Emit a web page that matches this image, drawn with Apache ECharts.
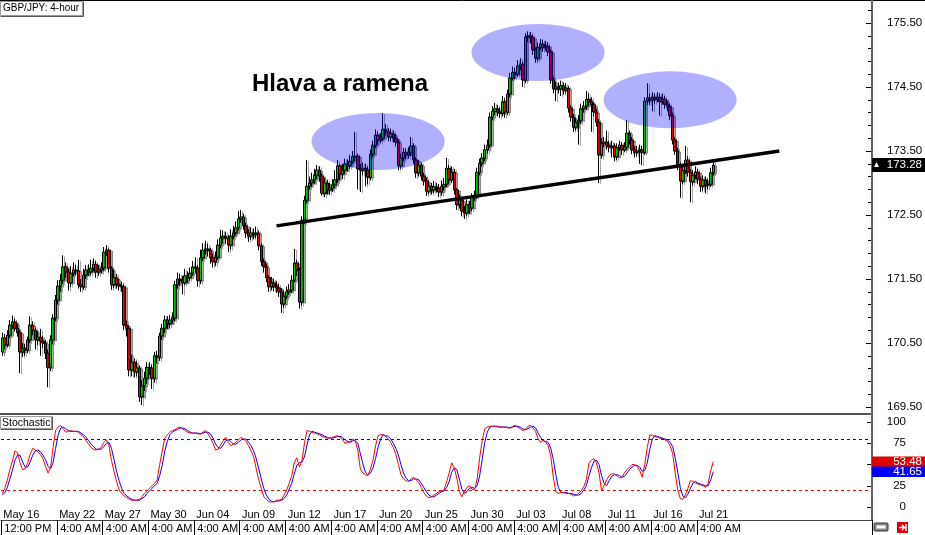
<!DOCTYPE html>
<html><head><meta charset="utf-8">
<script src="https://cdn.jsdelivr.net/npm/echarts@6/dist/echarts.min.js"></script>
<style>html,body{margin:0;padding:0;background:#fff;overflow:hidden}#c{width:925px;height:535px}</style>
</head><body><div id="c"></div>
<script>
// ---------- DATA (GBP/JPY 4-hour candles) ----------
const opens = [
170.36,170.58,170.47,170.62,170.78,170.83,170.73,170.66,170.36,170.42,
170.39,170.55,170.78,170.70,170.55,170.59,170.53,170.50,170.34,170.12,
170.55,170.89,171.17,171.39,171.48,171.69,171.61,171.44,171.59,171.64,
171.63,171.41,171.38,171.56,171.64,171.61,171.67,171.73,171.61,171.64,
171.67,171.92,171.95,171.67,171.41,171.52,171.42,171.39,171.38,170.78,
170.73,170.08,170.20,170.05,170.11,169.66,169.83,169.95,170.12,170.11,
169.95,170.30,170.28,170.61,170.73,170.86,170.80,170.86,170.89,171.41,
171.50,171.48,171.44,171.55,171.52,171.59,171.69,171.67,171.48,171.83,
171.95,171.97,171.95,171.83,171.77,171.84,172.03,172.14,172.17,172.14,
172.03,172.17,172.22,172.30,172.44,172.47,172.33,172.22,172.17,172.22,
172.20,172.22,172.02,171.77,171.69,171.52,171.38,171.44,171.39,171.36,
171.30,171.11,171.23,171.30,171.33,171.48,171.75,171.64,171.14,172.42,
172.73,172.95,173.00,173.05,173.12,173.20,173.11,172.84,173.00,172.89,
172.92,172.97,173.05,173.27,173.14,173.20,173.30,173.27,173.34,173.41,
173.42,173.22,173.20,173.23,173.20,173.09,173.45,173.59,173.75,173.67,
173.70,173.84,173.81,173.72,173.77,173.70,173.64,173.27,173.39,173.48,
173.44,173.47,173.58,173.36,173.16,173.28,173.11,173.03,172.87,172.95,
172.89,172.94,172.92,172.86,172.94,172.98,173.23,173.05,173.17,172.89,
172.66,172.73,172.56,172.53,172.66,172.61,172.77,172.80,173.17,173.31,
173.39,173.52,173.59,174.03,174.12,174.16,174.11,174.09,174.27,174.11,
174.39,174.64,174.73,174.70,174.83,174.86,174.61,175.28,175.30,175.27,
175.08,174.95,175.12,175.17,175.12,175.14,175.05,174.61,174.47,174.50,
174.47,174.52,174.45,174.48,174.17,174.03,173.87,173.95,173.98,174.16,
174.20,174.31,174.27,174.22,174.11,173.95,173.44,173.62,173.64,173.59,
173.56,173.58,173.41,173.55,173.59,173.52,173.56,173.78,173.67,173.52,
173.48,173.50,173.52,173.48,174.28,174.33,174.30,174.34,174.31,174.34,
174.27,174.31,174.23,174.19,174.05,173.67,173.50,173.28,173.03,173.19,
173.36,173.17,173.02,173.12,173.17,173.06,172.95,173.05,172.97,172.98,173.16
];
const closes = [
170.58,170.47,170.62,170.78,170.83,170.73,170.66,170.36,170.42,170.39,
170.55,170.78,170.70,170.55,170.59,170.53,170.50,170.34,170.12,170.55,
170.89,171.17,171.39,171.48,171.69,171.61,171.44,171.59,171.64,171.63,
171.41,171.38,171.56,171.64,171.61,171.67,171.73,171.61,171.64,171.67,
171.92,171.95,171.67,171.41,171.52,171.42,171.39,171.38,170.78,170.73,
170.08,170.20,170.05,170.11,169.66,169.83,169.95,170.12,170.11,169.95,
170.30,170.28,170.61,170.73,170.86,170.80,170.86,170.89,171.41,171.50,
171.48,171.44,171.55,171.52,171.59,171.69,171.67,171.48,171.83,171.95,
171.97,171.95,171.83,171.77,171.84,172.03,172.14,172.17,172.14,172.03,
172.17,172.22,172.30,172.44,172.47,172.33,172.22,172.17,172.22,172.20,
172.22,172.02,171.77,171.69,171.52,171.38,171.44,171.39,171.36,171.30,
171.11,171.23,171.30,171.33,171.48,171.75,171.64,171.14,172.42,172.73,
172.95,173.00,173.05,173.12,173.20,173.11,172.84,173.00,172.89,172.92,
172.97,173.05,173.27,173.14,173.20,173.30,173.27,173.34,173.41,173.42,
173.22,173.20,173.23,173.20,173.09,173.45,173.59,173.75,173.67,173.70,
173.84,173.81,173.72,173.77,173.70,173.64,173.27,173.39,173.48,173.44,
173.47,173.58,173.36,173.16,173.28,173.11,173.03,172.87,172.95,172.89,
172.94,172.92,172.86,172.94,172.98,173.23,173.05,173.17,172.89,172.66,
172.73,172.56,172.53,172.66,172.61,172.77,172.80,173.17,173.31,173.39,
173.52,173.59,174.03,174.12,174.16,174.11,174.09,174.27,174.11,174.39,
174.64,174.73,174.70,174.83,174.86,174.61,175.28,175.30,175.27,175.08,
174.95,175.12,175.17,175.12,175.14,175.05,174.61,174.47,174.50,174.47,
174.52,174.45,174.48,174.17,174.03,173.87,173.95,173.98,174.16,174.20,
174.31,174.27,174.22,174.11,173.95,173.44,173.62,173.64,173.59,173.56,
173.58,173.41,173.55,173.59,173.52,173.56,173.78,173.67,173.52,173.48,
173.50,173.52,173.48,174.28,174.33,174.30,174.34,174.31,174.34,174.27,
174.31,174.23,174.19,174.05,173.67,173.50,173.28,173.03,173.19,173.36,
173.17,173.02,173.12,173.17,173.06,172.95,173.05,172.97,172.98,173.16,173.28
];
const highs = [
170.66,170.64,170.70,170.86,170.93,170.88,170.80,170.70,170.50,170.49,
170.60,170.92,170.84,170.74,170.68,170.72,170.61,170.55,170.40,170.62,
170.95,171.25,171.48,171.58,171.87,171.76,171.66,171.70,171.76,171.72,
171.80,171.50,171.66,171.72,171.73,171.80,171.82,171.78,171.72,171.76,
172.00,172.03,171.98,171.70,171.64,171.58,171.50,171.46,171.42,170.85,
170.78,170.32,170.26,170.22,170.15,169.92,170.05,170.20,170.20,170.16,
170.36,170.38,170.66,170.80,170.93,170.92,170.94,170.98,171.47,171.60,
171.58,171.55,171.66,171.62,171.68,171.78,171.84,171.72,171.96,172.06,
172.10,172.05,171.99,171.90,171.93,172.12,172.27,172.26,172.24,172.19,
172.28,172.33,172.40,172.56,172.58,172.52,172.38,172.28,172.31,172.29,
172.32,172.26,172.06,171.82,171.74,171.56,171.53,171.50,171.47,171.42,
171.36,171.32,171.38,171.42,171.56,171.97,171.80,171.68,172.48,172.80,
173.36,173.10,173.16,173.22,173.28,173.26,173.15,173.08,173.05,173.00,
173.06,173.20,173.36,173.30,173.30,173.38,173.37,173.44,173.50,173.80,
173.46,173.30,173.32,173.30,173.26,173.52,173.66,173.84,173.80,173.78,
174.09,173.92,173.86,173.85,173.82,173.76,173.68,173.46,173.55,173.54,
173.56,173.72,173.62,173.40,173.36,173.32,173.16,173.08,173.04,173.00,
173.03,173.00,172.98,173.04,173.08,173.39,173.28,173.26,173.22,172.92,
172.82,172.78,172.64,172.74,172.72,172.84,172.88,173.24,173.38,173.47,
173.60,173.68,174.10,174.20,174.25,174.22,174.18,174.36,174.32,174.46,
174.72,174.82,174.80,174.92,174.95,174.90,175.34,175.37,175.36,175.32,
175.12,175.20,175.25,175.24,175.22,175.20,175.09,174.66,174.58,174.57,
174.60,174.57,174.56,174.52,174.22,174.08,174.02,174.06,174.24,174.28,
174.44,174.40,174.34,174.26,174.16,174.00,173.70,173.72,173.82,173.66,
173.66,173.62,173.62,173.66,173.64,173.64,173.98,173.82,173.72,173.58,
173.58,173.60,173.58,174.34,174.56,174.40,174.42,174.40,174.42,174.40,
174.40,174.36,174.28,174.24,174.10,173.72,173.55,173.32,173.26,173.58,
173.42,173.22,173.20,173.26,173.22,173.10,173.12,173.10,173.06,173.24,173.36
];
const lows = [
170.30,170.40,170.43,170.58,170.72,170.68,170.60,170.03,170.28,170.30,
170.34,170.50,170.62,170.40,170.47,170.30,170.42,170.25,169.81,170.06,
170.48,170.84,171.10,171.30,171.42,171.52,171.32,171.38,171.54,171.56,
171.35,171.30,171.33,171.50,171.55,171.56,171.62,171.52,171.55,171.58,
171.63,171.86,171.60,171.33,171.36,171.35,171.32,171.30,170.70,170.60,
169.98,169.98,169.96,169.98,169.58,169.53,169.75,169.86,170.00,169.78,
169.88,170.18,170.22,170.55,170.66,170.72,170.74,170.80,170.84,171.35,
171.40,171.26,171.40,171.44,171.47,171.55,171.60,171.38,171.42,171.78,
171.88,171.85,171.74,171.68,171.70,171.80,171.98,172.05,172.05,171.92,
171.96,172.12,172.18,172.26,172.38,172.27,172.14,172.08,172.11,172.12,
172.14,171.95,171.70,171.60,171.45,171.30,171.32,171.31,171.28,171.22,
170.97,171.05,171.18,171.25,171.28,171.45,171.55,171.04,171.08,172.36,
172.68,172.90,172.94,172.98,173.06,173.02,172.80,172.78,172.82,172.82,
172.86,172.92,173.00,173.05,173.06,173.14,173.18,173.22,173.30,173.34,
172.90,172.86,173.12,172.95,172.98,173.04,173.40,173.55,173.60,173.62,
173.66,173.74,173.65,173.66,173.63,173.57,173.20,173.22,173.34,173.37,
173.38,173.42,173.30,173.08,173.10,173.04,172.96,172.80,172.82,172.82,
172.84,172.85,172.78,172.80,172.88,172.94,172.98,173.00,172.82,172.58,
172.60,172.48,172.44,172.48,172.52,172.56,172.72,172.76,173.12,173.26,
173.34,173.46,173.55,173.98,174.06,174.04,174.02,174.04,174.02,174.06,
174.34,174.60,174.62,174.66,174.76,174.50,174.56,175.20,175.18,175.00,
174.88,174.90,175.08,175.05,175.06,174.98,174.55,174.40,174.28,174.40,
174.36,174.38,174.40,174.10,173.96,173.80,173.82,173.60,173.92,174.10,
174.14,174.20,173.80,174.04,173.88,173.00,173.38,173.56,173.52,173.48,
173.40,173.34,173.36,173.50,173.44,173.48,173.52,173.60,173.45,173.40,
173.42,173.30,173.28,173.44,174.22,174.22,174.12,174.24,174.26,174.05,
174.22,174.16,174.12,173.98,173.60,173.44,173.20,172.77,172.98,173.14,
173.10,172.70,172.96,173.06,172.98,172.86,172.88,172.84,172.90,172.94,173.12
];
// Stochastic %K (red) and %D (blue)
const stochK = [
16,22,32,44,54,66,64,52,44,45, 52,62,69,67,65,62,57,48,40,46,
70,90,94,96,92,88,89,90,89,89, 88,85,83,78,74,70,68,67,68,70,
76,79,72,55,42,30,20,16,13,11, 9,8,8,8,9,12,16,19,22,25,
28,32,50,66,81,85,88,90,91,93, 94,92,90,88,87,87,87,86,86,88,
90,86,81,75,67,68,73,78,82,76, 72,74,76,79,82,80,77,72,66,59,
45,32,22,12,9,6,6,6,8,8, 9,14,20,28,37,52,58,47,54,75,
90,89,88,87,86,85,83,82,81,81, 82,83,84,82,79,75,76,77,80,78,
67,45,40,38,37,45,55,72,84,85, 85,83,80,76,70,62,50,38,33,31,
30,33,35,32,29,23,17,13,11,12, 14,16,18,19,20,30,40,52,46,34,
18,12,18,23,25,21,20,33,58,78, 92,94,95,95,95,94,94,94,94,93,
93,95,96,94,92,90,91,95,96,93, 89,80,76,79,76,72,60,35,18,16,
17,17,16,16,15,13,14,16,19,24, 32,51,55,57,52,40,19,25,32,37,
39,39,37,34,35,40,44,47,50,50, 48,43,35,50,70,85,84,83,82,81,
80,79,77,72,63,40,20,10,9,14, 22,31,30,28,27,26,25,23,28,43,53.48
];
const stochD = [
14,17,23,33,43,55,61,61,53,47, 47,53,61,66,67,65,61,56,48,45,
52,69,85,93,94,92,90,89,89,89, 89,87,85,82,78,74,71,68,68,68,
71,75,76,69,56,42,31,22,16,13, 11,9,8,8,8,10,12,16,19,22,
25,28,37,49,66,77,85,88,90,91, 93,93,92,90,88,87,87,87,86,87,
88,88,86,81,74,70,69,73,78,79, 77,74,74,76,79,80,80,76,72,66,
57,45,33,22,14,9,7,6,7,7, 8,10,14,21,28,39,49,52,53,59,
73,85,89,88,87,86,85,83,82,81, 81,82,83,83,82,79,77,76,78,78,
75,63,51,41,38,40,46,57,70,80, 85,84,83,80,75,69,61,50,40,34,
31,31,33,33,32,28,23,18,14,12, 12,14,16,18,19,23,30,41,46,44,
33,21,16,18,22,23,22,25,37,56, 76,88,94,95,95,95,94,94,94,94,
93,94,95,95,94,92,91,92,94,95, 93,87,82,78,77,76,69,56,38,23,
17,17,17,16,16,15,14,14,16,20, 25,36,46,54,55,50,37,28,25,31,
36,38,38,37,35,36,40,44,47,49, 49,47,42,43,52,68,80,84,83,82,
81,80,79,76,71,58,41,23,13,11, 15,22,28,30,28,27,26,25,25,32,41.65
];
// x-axis labels: candle index, date, time
const labelCandles = [0,22,40,58,76,94,112,130,148,166,184,202,220,238,256,274];
const dateLabels = ['May 16','May 22','May 27','May 30','Jun 04','Jun 09','Jun 12','Jun 17','Jun 20','Jun 25','Jun 30','Jul 03','Jul 08','Jul 11','Jul 16','Jul 21'];
const timeLabels = ['12:00 PM','4:00 AM','4:00 AM','4:00 AM','4:00 AM','4:00 AM','4:00 AM','4:00 AM','4:00 AM','4:00 AM','4:00 AM','4:00 AM','4:00 AM','4:00 AM','4:00 AM','4:00 AM'];
const slotCount = 343;               // candle slots on the time axis (incl. empty right margin)
const priceAxisBase = 169.5;         // lowest labelled price
const priceAxisSpan = 6;             // 169.50 .. 175.50
// annotations (data coordinates)
const trendLine = [[108, 172.33], [306, 173.50]];
const ellipseCandle = [148, 211, 263];
const ellipsePrice = [173.65, 175.04, 174.30];
const ellipseHalfCandles = 26.2;
const ellipseHalfPrice = 0.445;
const lastPrice = 173.28;
const titleText = 'GBP/JPY: 4-hour';
const patternText = 'Hlava a ramena';
const stochTitle = 'Stochastic';

// ---------- CHART ----------
const FONT = '"Liberation Sans", Arial, sans-serif';
const chart = echarts.init(document.getElementById('c'));
const cats = Array.from({length: slotCount}, (_, i) => String(i));
const labelPos = {};
labelCandles.forEach((c, k) => { labelPos[c] = k; });
const isLabel = (i) => labelPos[i] !== undefined;
const candleData = opens.map((o, i) => [o, closes[i], lows[i], highs[i]]);

chart.setOption({
  animation: false,
  backgroundColor: '#fff',
  grid: [
    {left: 1, right: 53, top: 23, height: 384, outerBoundsMode: 'none', containLabel: false},
    {left: 1, right: 53, top: 422, height: 85, outerBoundsMode: 'none', containLabel: false}
  ],
  xAxis: [
    {type: 'category', data: cats, gridIndex: 0, show: false, boundaryGap: true},
    {type: 'category', data: cats, gridIndex: 1, position: 'bottom', boundaryGap: true,
      axisLine: {show: false}, axisTick: {show: false}, splitLine: {show: false},
      axisLabel: {interval: (i) => isLabel(i), formatter: (v, i) => isLabel(i) ? dateLabels[labelPos[i]] : '',
        align: 'left', margin: 2, fontSize: 11, color: '#000', fontFamily: FONT, padding: [0, 0, 0, 1]}},
    {type: 'category', data: cats, gridIndex: 1, position: 'bottom', offset: 13, boundaryGap: true,
      axisLine: {show: true, lineStyle: {color: '#444', width: 1}},
      axisTick: {show: true, interval: (i) => isLabel(i), length: 15, inside: false, lineStyle: {color: '#000', width: 1}},
      splitLine: {show: false},
      axisLabel: {interval: (i) => isLabel(i), formatter: (v, i) => isLabel(i) ? timeLabels[labelPos[i]] : '',
        align: 'left', margin: 3, fontSize: 11, color: '#000', fontFamily: FONT, padding: [0, 0, 0, 2]}}
  ],
  yAxis: [
    {type: 'value', gridIndex: 0, min: priceAxisBase, max: priceAxisBase + priceAxisSpan, show: false},
    {type: 'value', gridIndex: 0, position: 'right', min: 0, max: priceAxisSpan, interval: 1,
      axisLine: {show: false}, splitLine: {show: false},
      axisTick: {show: true, inside: true, length: 6, lineStyle: {color: '#000'}},
      minorTick: {show: true, splitNumber: 5, length: 4, lineStyle: {color: '#000'}},
      axisLabel: {formatter: (v) => (priceAxisBase + v).toFixed(2), margin: 15, align: 'left',
        fontSize: 11.5, color: '#000', fontFamily: FONT}},
    {type: 'value', gridIndex: 1, position: 'right', min: 0, max: 100, interval: 25,
      axisLine: {show: false}, splitLine: {show: false},
      axisTick: {show: true, inside: true, length: 5, lineStyle: {color: '#000'}},
      axisLabel: {margin: 34, align: 'right', fontSize: 11.5, color: '#000', fontFamily: FONT}}
  ],
  series: [
    {type: 'candlestick', xAxisIndex: 0, yAxisIndex: 0, data: candleData, barWidth: 3, z: 2, clip: false,
      itemStyle: {color: '#00c800', color0: '#e80000', borderColor: '#000', borderColor0: '#000', borderWidth: 1,
        shadowColor: 'rgba(0,0,0,0.35)', shadowOffsetX: 2, shadowOffsetY: 1, shadowBlur: 0}},
    {type: 'custom', xAxisIndex: 0, yAxisIndex: 0, z: 3, silent: true, clip: false,
      encode: {x: 0, y: 1},
      data: ellipseCandle.map((c, k) => [c, ellipsePrice[k]]),
      renderItem: (params, api) => {
        const c = api.coord([api.value(0), api.value(1)]);
        const band = api.size([1, 0], [api.value(0), api.value(1)])[0];
        const hp = api.size([0, ellipseHalfPrice * 2], [api.value(0), api.value(1)])[1] / 2;
        const rx = ellipseHalfCandles * band;
        return {type: 'circle', x: c[0], y: c[1], scaleX: rx / hp, scaleY: 1,
          shape: {cx: 0, cy: 0, r: hp}, style: {fill: 'rgba(0,0,255,0.31)'}};
      }},
    {type: 'line', xAxisIndex: 0, yAxisIndex: 0, data: trendLine, z: 4, symbol: 'none', silent: true,
      lineStyle: {color: '#000', width: 3.5}},
    {type: 'line', xAxisIndex: 1, yAxisIndex: 2, data: stochD, symbol: 'none', z: 2,
      lineStyle: {color: '#0000ff', width: 1},
      markLine: {silent: true, symbol: 'none', label: {show: false},
        data: [{yAxis: 80, lineStyle: {color: '#0000ff', type: [3, 3], width: 1}},
               {yAxis: 20, lineStyle: {color: '#ff0000', type: [3, 3], width: 1}}]}},
    {type: 'line', xAxisIndex: 1, yAxisIndex: 2, data: stochK, symbol: 'none', z: 3,
      lineStyle: {color: '#ff0000', width: 1}}
  ]
});

const yTag = chart.convertToPixel({yAxisIndex: 0}, lastPrice);
const kLast = stochK[stochK.length - 1];
const dLast = stochD[stochD.length - 1];
const yK = chart.convertToPixel({yAxisIndex: 2}, kLast);
const yD = chart.convertToPixel({yAxisIndex: 2}, dLast);

chart.setOption({
  graphic: [
    {type: 'line', shape: {x1: 0, y1: 0.5, x2: 925, y2: 0.5}, style: {stroke: '#000', lineWidth: 1}, z: 10},
    {type: 'line', shape: {x1: 0, y1: 414, x2: 872, y2: 414}, style: {stroke: '#555', lineWidth: 2}, z: 10},
    {type: 'line', shape: {x1: 872, y1: 0, x2: 872, y2: 520}, style: {stroke: '#666', lineWidth: 2}, z: 10},
    // upper tick above the top label (175.70)
    {type: 'line', shape: {x1: 868, y1: 10.5, x2: 872, y2: 10.5}, style: {stroke: '#000', lineWidth: 1}, z: 10},
    // title box
    {type: 'rect', shape: {x: 0.5, y: 1.5, width: 82, height: 14}, style: {fill: '#fff', stroke: '#999', lineWidth: 1}, z: 10},
    {type: 'polyline', shape: {points: [[83.5, 1.5], [83.5, 16.5], [0.5, 16.5]]}, style: {stroke: '#555', fill: null, lineWidth: 1}, z: 10},
    {type: 'text', x: 3, y: 8.5, style: {text: titleText, font: '10px ' + FONT, fill: '#000', verticalAlign: 'middle'}, z: 11},
    // stochastic box
    {type: 'rect', shape: {x: 0.5, y: 416.5, width: 51, height: 12}, style: {fill: '#fff', stroke: '#999', lineWidth: 1}, z: 10},
    {type: 'polyline', shape: {points: [[52.5, 416.5], [52.5, 429.5], [0.5, 429.5]]}, style: {stroke: '#555', fill: null, lineWidth: 1}, z: 10},
    {type: 'text', x: 2, y: 423, style: {text: stochTitle, font: '10.5px ' + FONT, fill: '#000', verticalAlign: 'middle'}, z: 11},
    // pattern caption
    {type: 'text', x: 252, y: 72, style: {text: patternText, font: 'bold 24px ' + FONT, fill: '#000', verticalAlign: 'alphabetic'}, z: 11},
    // last price tag
    {type: 'rect', shape: {x: 872, y: yTag - 7, width: 53, height: 14}, style: {fill: '#000'}, z: 11},
    {type: 'polygon', shape: {points: [[874, yTag + 2], [879, yTag + 2], [876.5, yTag - 3]]}, style: {fill: '#fff'}, z: 12},
    {type: 'text', x: 922, y: yTag, style: {text: lastPrice.toFixed(2), font: '11.5px ' + FONT, fill: '#fff', align: 'right', verticalAlign: 'middle'}, z: 12},
    // stochastic value boxes
    {type: 'rect', shape: {x: 872, y: yD - 5.5, width: 53, height: 11}, style: {fill: '#0000ff'}, z: 11},
    {type: 'text', x: 922, y: yD, style: {text: dLast.toFixed(2), font: '11.5px ' + FONT, fill: '#fff', align: 'right', verticalAlign: 'middle'}, z: 12},
    {type: 'rect', shape: {x: 872, y: yK - 5, width: 53, height: 10}, style: {fill: '#e00000'}, z: 11},
    {type: 'text', x: 922, y: yK, style: {text: kLast.toFixed(2), font: '11.5px ' + FONT, fill: '#fff', align: 'right', verticalAlign: 'middle'}, z: 12},
    // small status icons bottom right
    {type: 'rect', shape: {x: 874, y: 523, width: 14, height: 8, r: 1}, style: {fill: '#888', stroke: '#333', lineWidth: 1}, z: 10},
    {type: 'rect', shape: {x: 876.5, y: 525.5, width: 9, height: 3}, style: {fill: '#fff'}, z: 11},
    {type: 'rect', shape: {x: 897, y: 522, width: 11, height: 11}, style: {fill: '#e00000'}, z: 10},
    {type: 'polyline', shape: {points: [[899, 527.5], [904, 527.5]]}, style: {stroke: '#fff', lineWidth: 1.5}, z: 11},
    {type: 'polyline', shape: {points: [[902, 525], [904.5, 527.5], [902, 530]]}, style: {stroke: '#fff', lineWidth: 1.5, fill: null}, z: 11},
    {type: 'line', shape: {x1: 906, y1: 524, x2: 906, y2: 531}, style: {stroke: '#fff', lineWidth: 1.5}, z: 11}
  ]
});
</script>
</body></html>
